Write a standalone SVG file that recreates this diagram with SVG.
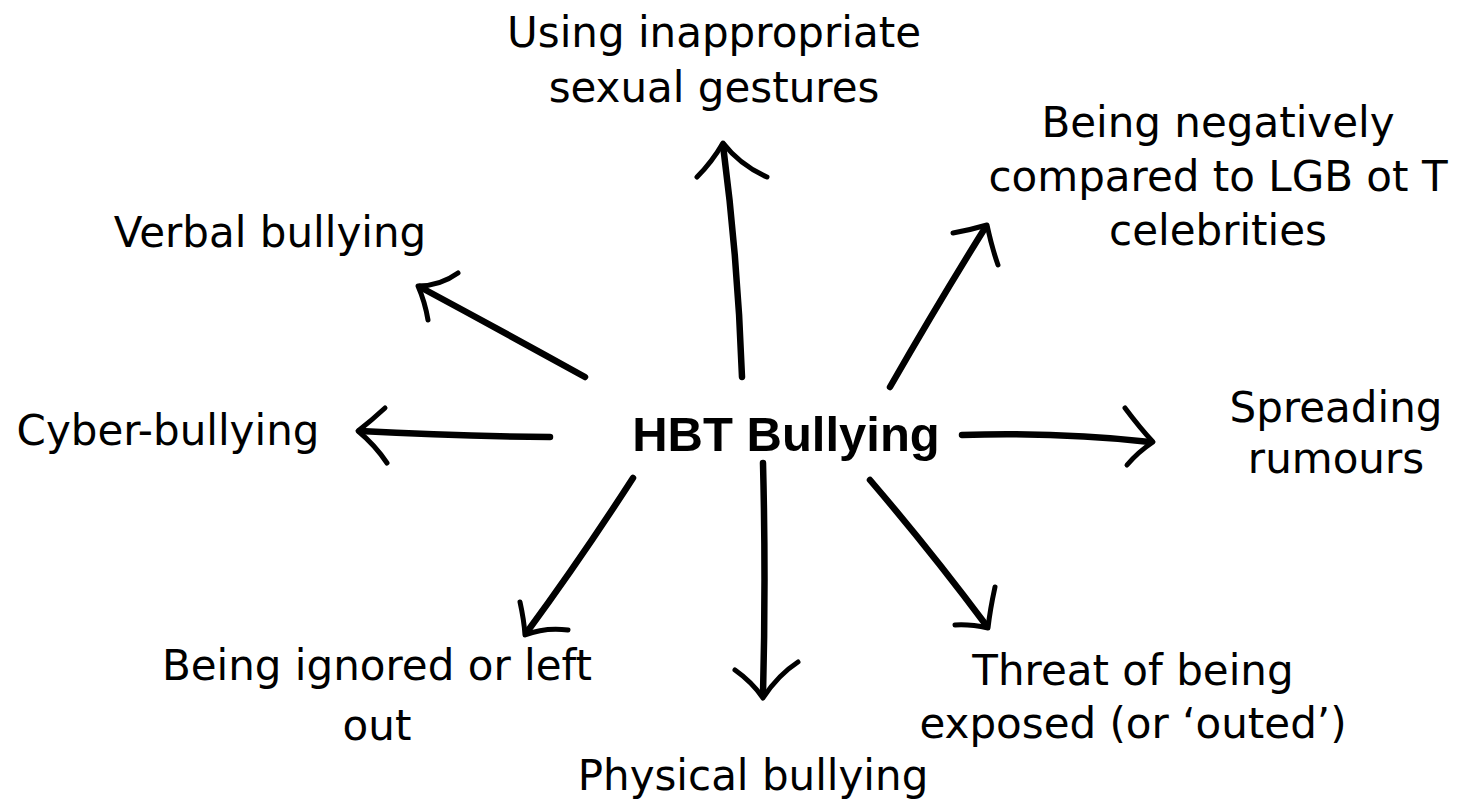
<svg xmlns="http://www.w3.org/2000/svg" width="1476" height="803" viewBox="0 0 1476 803">
<style>
.lbl{font-family:"DejaVu Sans","Liberation Sans",sans-serif;font-size:42px;fill:#000;text-anchor:middle}
.hub{font-family:"Liberation Sans","DejaVu Sans",sans-serif;font-size:49px;font-weight:bold;fill:#000;text-anchor:middle}
.shaft{fill:none;stroke:#000;stroke-width:6.5;stroke-linecap:round;stroke-linejoin:round}
.barb{fill:none;stroke:#000;stroke-width:5;stroke-linecap:round;stroke-linejoin:round}
</style>
<rect width="1476" height="803" fill="#fff"/>
<g id="connectors">
  <g id="c-up"><path class="shaft" d="M742,377 Q738,260 723,145"/><path class="barb" d="M697,177 Q712,162 723,143 Q740,165 767,177"/></g>
  <g id="c-verbal"><path class="shaft" d="M585,377 Q500,330 420,287"/><path class="barb" d="M458,273 Q440,286 418,286 Q425,302 428,320"/></g>
  <g id="c-cyber"><path class="shaft" d="M550,437 Q450,436 360,431"/><path class="barb" d="M385,408 Q372,420 358,431 Q375,445 387,463"/></g>
  <g id="c-ignored"><path class="shaft" d="M633,478 Q580,560 527,632"/><path class="barb" d="M520,602 Q524,620 525,635 Q545,627 568,630"/></g>
  <g id="c-physical"><path class="shaft" d="M763,463 Q766,580 763,695"/><path class="barb" d="M735,670 Q752,682 763,698 Q778,675 798,662"/></g>
  <g id="c-compared"><path class="shaft" d="M890,387 Q940,300 985,228"/><path class="barb" d="M953,233 Q970,230 987,225 Q992,248 998,265"/></g>
  <g id="c-spreading"><path class="shaft" d="M962,435 Q1060,432 1150,442"/><path class="barb" d="M1125,408 Q1140,428 1153,442 Q1138,452 1127,465"/></g>
  <g id="c-threat"><path class="shaft" d="M870,480 Q930,550 986,625"/><path class="barb" d="M995,587 Q990,610 988,628 Q970,624 955,625"/></g>
</g>
<g id="hub"><text class="hub" x="786" y="451">HBT Bullying</text></g>
<g id="n-sexual"><text class="lbl" x="714" y="47">Using inappropriate</text><text class="lbl" x="714" y="102">sexual gestures</text></g>
<g id="n-compared"><text class="lbl" x="1218" y="137">Being negatively</text><text class="lbl" x="1218" y="191">compared to LGB ot T</text><text class="lbl" x="1218" y="245">celebrities</text></g>
<g id="n-verbal"><text class="lbl" x="270" y="247">Verbal bullying</text></g>
<g id="n-cyber"><text class="lbl" x="168" y="445">Cyber-bullying</text></g>
<g id="n-spreading"><text class="lbl" x="1336" y="422">Spreading</text><text class="lbl" x="1336" y="473">rumours</text></g>
<g id="n-ignored"><text class="lbl" x="377" y="680">Being ignored or left</text><text class="lbl" x="377" y="740">out</text></g>
<g id="n-physical"><text class="lbl" x="753" y="790">Physical bullying</text></g>
<g id="n-threat"><text class="lbl" x="1133" y="685">Threat of being</text><text class="lbl" x="1133" y="738">exposed (or ‘outed’)</text></g>
</svg>
